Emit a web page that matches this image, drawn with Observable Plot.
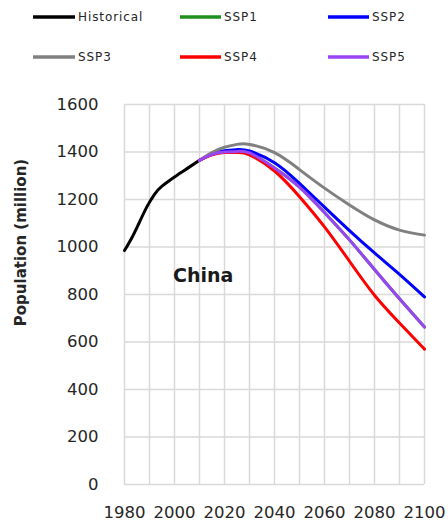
<!DOCTYPE html>
<html><head><meta charset="utf-8">
<script src="https://cdn.jsdelivr.net/npm/d3@7"></script>
<script src="https://cdn.jsdelivr.net/npm/@observablehq/plot@0.6"></script>
<style>
body{margin:0;background:#fff;width:448px;height:522px;overflow:hidden;font-family:"DejaVu Sans",sans-serif;color:#262626}
#legend{position:relative;height:84px}
.item{position:absolute;display:flex;align-items:center;font-size:12px;letter-spacing:0.9px;height:20px;white-space:nowrap}
.item svg{margin-right:3px}
#chart svg{display:block}
</style></head><body>
<div id="legend"></div><div id="chart"></div>
<script>
// ---- data ----
const seriesNames = ["Historical", "SSP1", "SSP2", "SSP3", "SSP4", "SSP5"];
const seriesColors = ["#000000", "#1f8f1f", "#0000ff", "#808080", "#ff0000", "#9a45f5"];
const histYears = [1980, 1983, 1986, 1989, 1992, 1995, 2000, 2005, 2010];
const histPop   = [985, 1040, 1105, 1170, 1222, 1256, 1295, 1330, 1365];
const sspYears = [2010, 2015, 2020, 2025, 2030, 2040, 2050, 2060, 2070, 2080, 2090, 2100];
const ssp1 = [1365, 1390, 1400, 1402, 1396, 1333, 1252, 1145, 1030, 905, 782, 663];
const ssp2 = [1365, 1392, 1405, 1410, 1404, 1355, 1268, 1168, 1069, 975, 885, 790];
const ssp3 = [1365, 1398, 1420, 1432, 1432, 1397, 1326, 1248, 1177, 1114, 1071, 1050];
const ssp4 = [1365, 1388, 1398, 1398, 1388, 1320, 1212, 1085, 940, 797, 680, 570];
const ssp5 = [1365, 1390, 1400, 1402, 1396, 1333, 1252, 1145, 1030, 905, 782, 663];
const xGridTicks = [1980, 1990, 2000, 2010, 2020, 2030, 2040, 2050, 2060, 2070, 2080, 2090, 2100];
const xTickLabels = [1980, 2000, 2020, 2040, 2060, 2080, 2100];
const yTicks = [0, 200, 400, 600, 800, 1000, 1200, 1400, 1600];
const yTitle = "Population (million)";
const regionLabel = "China";
const regionLabelYear = 2011.5;
const regionLabelValue = 880;

// ---- tidy table ----
const rows = [];
histYears.forEach((yr, i) => rows.push({series: "Historical", year: yr, value: histPop[i]}));
const sspValues = {SSP1: ssp1, SSP2: ssp2, SSP3: ssp3, SSP4: ssp4, SSP5: ssp5};
["SSP1", "SSP2", "SSP3", "SSP4", "SSP5"].forEach(s => {
  sspYears.forEach((yr, i) => rows.push({series: s, year: yr, value: sspValues[s][i]}));
});

// ---- legend ----
const legend = document.getElementById("legend");
const colLeft = [33, 180, 328];
const rowTop = [7, 47];
seriesNames.forEach((name, i) => {
  const d = document.createElement("div");
  d.className = "item";
  d.style.left = colLeft[i % 3] + "px";
  d.style.top = rowTop[Math.floor(i / 3)] + "px";
  const w = i % 3 === 0 ? 42 : 41;
  d.innerHTML = `<svg width="${w}" height="6"><line x1="0" x2="${w}" y1="3" y2="3" stroke="${seriesColors[i]}" stroke-width="3.5"/></svg><span>${name}</span>`;
  legend.appendChild(d);
});

// ---- chart ----
const chart = Plot.plot({
  width: 448,
  height: 438,
  marginTop: 20,
  marginBottom: 38,
  marginLeft: 124,
  marginRight: 24,
  style: {fontFamily: "DejaVu Sans, sans-serif", fontSize: "16.5px", color: "#262626", background: "#fff"},
  x: {domain: [1980, 2100]},
  y: {domain: [0, 1600]},
  color: {domain: seriesNames, range: seriesColors},
  marks: [
    Plot.gridX({ticks: xGridTicks, stroke: "#d9d9d9", strokeOpacity: 1, strokeWidth: 1.5}),
    Plot.gridY({ticks: yTicks, stroke: "#d9d9d9", strokeOpacity: 1, strokeWidth: 1.5}),
    Plot.axisX({ticks: xTickLabels, tickSize: 0, tickPadding: 22, tickFormat: d => String(d), label: null}),
    Plot.axisY({ticks: yTicks, tickSize: 0, tickPadding: 26, tickFormat: d => String(d), label: null}),
    Plot.line(rows, {x: "year", y: "value", z: "series", stroke: "series", strokeWidth: 3, curve: "natural"}),
    Plot.text([regionLabel], {x: () => regionLabelYear, y: () => regionLabelValue, text: d => d, fontWeight: "bold", fontSize: 19, fill: "#1a1a1a"}),
    Plot.text([yTitle], {frameAnchor: "left", textAnchor: "middle", lineAnchor: "middle", text: d => d, rotate: -90, dx: -103.5, dy: -52, fontWeight: "bold", fontSize: 15, fill: "#262626"})
  ]
});
document.getElementById("chart").appendChild(chart);
</script>
</body></html>
